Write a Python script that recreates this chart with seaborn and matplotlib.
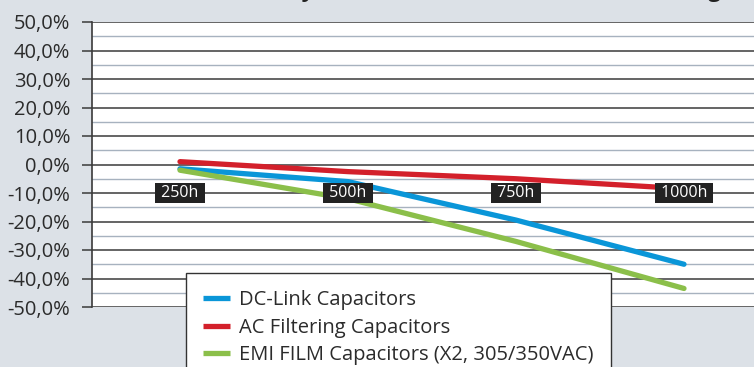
import matplotlib
matplotlib.use("Agg")
import matplotlib.pyplot as plt
import seaborn as sns
import pandas as pd
from matplotlib.ticker import MultipleLocator

# Test durations (hours) and capacitance drift (%) per capacitor family
hours = [250, 500, 750, 1000]
hour_labels = ["250h", "500h", "750h", "1000h"]
series_names = ["DC-Link Capacitors", "AC Filtering Capacitors",
                "EMI FILM Capacitors (X2, 305/350VAC)"]
dc_link = [-1.5, -6.0, -19.5, -35.0]
ac_filter = [1.0, -2.5, -5.0, -8.5]
emi_film = [-2.0, -12.0, -27.0, -43.5]
y_ticks = [50, 40, 30, 20, 10, 0, -10, -20, -30, -40, -50]
title = "Stability Over Time (1000h test, rated voltage)"

colors = ["#0a96d8", "#d3202b", "#8bbf4a"]
bg = "#dce1e7"

df = pd.DataFrame({
    "hours": hours * 3,
    "drift": dc_link + ac_filter + emi_film,
    "series": [s for s in series_names for _ in hours],
})

sns.set_style("white")
plt.rcParams["font.family"] = ["Open Sans", "DejaVu Sans"]

fig = plt.figure(figsize=(7.54, 3.67), dpi=100, facecolor=bg)
W, H = 754, 367
ax = fig.add_axes([92 / W, 1 - 307 / H, (770 - 92) / W, 285 / H])
ax.set_facecolor("white")

ax.set_ylim(-50, 50)
ax.set_xlim(250 - 88 / 168 * 250, 250 + (770 - 180) / 168 * 250)

# grid: dark major lines every 10 %, light minor lines every 5 %
ax.yaxis.set_major_locator(MultipleLocator(10))
ax.yaxis.set_minor_locator(MultipleLocator(5))
ax.grid(which="major", axis="y", color="#3a3a3a", lw=1.1, zorder=0)
ax.grid(which="minor", axis="y", color="#a7b2bf", lw=1.0, zorder=0)
ax.grid(which="major", axis="x", visible=False)
ax.set_axisbelow(True)

sns.lineplot(data=df, x="hours", y="drift", hue="series", palette=colors,
             hue_order=series_names, lw=3.8, ax=ax, sort=False,
             solid_capstyle="round", legend=True, zorder=3)

ax.set_yticks(y_ticks)
ax.set_yticklabels([f"{v:.1f}%".replace(".", ",") for v in y_ticks],
                   fontsize=14.5, color="#2b2b2b")
ax.tick_params(axis="y", which="major", length=7.2, width=1.1,
               color="#3a3a3a", pad=8.5, left=True)
ax.tick_params(axis="y", which="minor", length=0)
ax.set_xticks([])
ax.set_xlabel("")
ax.set_ylabel("")

for side in ["top", "right", "bottom"]:
    ax.spines[side].set_visible(False)
ax.spines["left"].set_color("#3a3a3a")
ax.spines["left"].set_linewidth(1.2)

# hour labels sitting on the -10 % line
for h, lab in zip(hours, hour_labels):
    ax.text(h, -10, f" {lab} ", ha="center", va="center", fontsize=11.5,
            color="white", zorder=5,
            bbox=dict(boxstyle="square,pad=0.12", fc="#222222", ec="none"))

handles, labels = ax.get_legend_handles_labels()
ax.legend_.remove()
leg = fig.legend(handles, labels, loc="upper left",
                 bbox_to_anchor=(186 / W, 1 - 273 / H),
                 frameon=True, fancybox=False, fontsize=14.5,
                 handlelength=1.35, handletextpad=0.45, labelspacing=0.38,
                 borderpad=0.85, borderaxespad=0, labelcolor="#2b2b2b")
leg.get_frame().set_edgecolor("#333333")
leg.get_frame().set_linewidth(1.0)
leg.get_frame().set_facecolor("white")
leg.get_frame().set_alpha(1)
for line in leg.get_lines():
    line.set_linewidth(3.8)
    line.set_solid_capstyle("butt")
leg.set_zorder(10)

fig.text(742 / W, 1 + 4.0 / H, title, ha="right", va="baseline",
         fontsize=16.5, fontweight="bold", color="#222222")

fig.savefig("out.png", dpi=100, facecolor=bg)
